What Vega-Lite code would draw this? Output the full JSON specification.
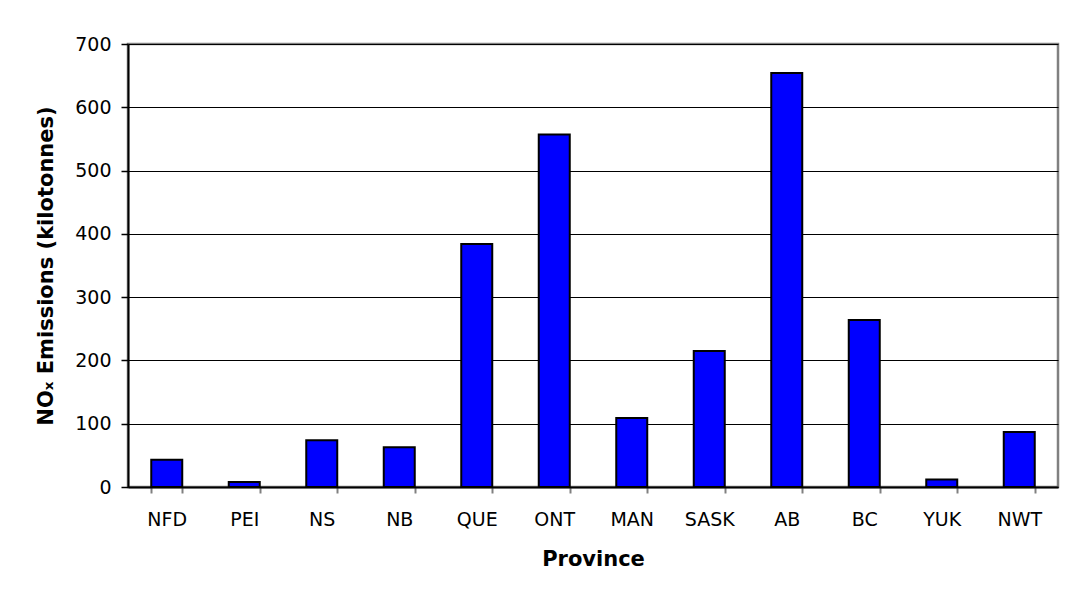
{
  "$schema": "https://vega.github.io/schema/vega-lite/v6.json",
  "width": 930,
  "height": 443,
  "autosize": {"type": "none"},
  "padding": {"left": 128, "top": 44, "right": 11, "bottom": 108},
  "background": "white",
  "data": {
    "values": [
      {"province": "NFD", "nox": 43},
      {"province": "PEI", "nox": 8},
      {"province": "NS", "nox": 74},
      {"province": "NB", "nox": 63},
      {"province": "QUE", "nox": 384},
      {"province": "ONT", "nox": 557},
      {"province": "MAN", "nox": 109},
      {"province": "SASK", "nox": 215},
      {"province": "AB", "nox": 654},
      {"province": "BC", "nox": 264},
      {"province": "YUK", "nox": 12},
      {"province": "NWT", "nox": 87}
    ]
  },
  "mark": {"type": "bar", "color": "#0000FF", "stroke": "#000000", "strokeWidth": 2},
  "encoding": {
    "x": {
      "field": "province",
      "type": "nominal",
      "sort": null,
      "scale": {"paddingInner": 0.6, "paddingOuter": 0.3},
      "axis": {
        "title": "Province",
        "labelAngle": 0,
        "tickBand": "extent",
        "tickColor": "#808080",
        "tickWidth": 2,
        "tickSize": 6,
        "labelPadding": 17,
        "titlePadding": 19
      }
    },
    "y": {
      "field": "nox",
      "type": "quantitative",
      "scale": {"domain": [0, 700], "nice": false},
      "axis": {
        "title": "NOₓ Emissions (kilotonnes)",
        "values": [0, 100, 200, 300, 400, 500, 600, 700],
        "tickSize": 7,
        "labelPadding": 10,
        "titlePadding": 18,
        "grid": true,
        "gridColor": "#000000",
        "gridWidth": 1
      }
    }
  },
  "config": {
    "font": "DejaVu Sans",
    "view": {"stroke": "#808080", "strokeWidth": 2.5},
    "axis": {
      "domainColor": "#000000",
      "domainWidth": 2,
      "tickColor": "#000000",
      "tickWidth": 1.5,
      "labelFont": "DejaVu Sans",
      "labelFontSize": 19,
      "labelColor": "#000000",
      "titleFont": "DejaVu Sans",
      "titleFontSize": 21,
      "titleFontWeight": "bold",
      "titleColor": "#000000"
    }
  }
}
